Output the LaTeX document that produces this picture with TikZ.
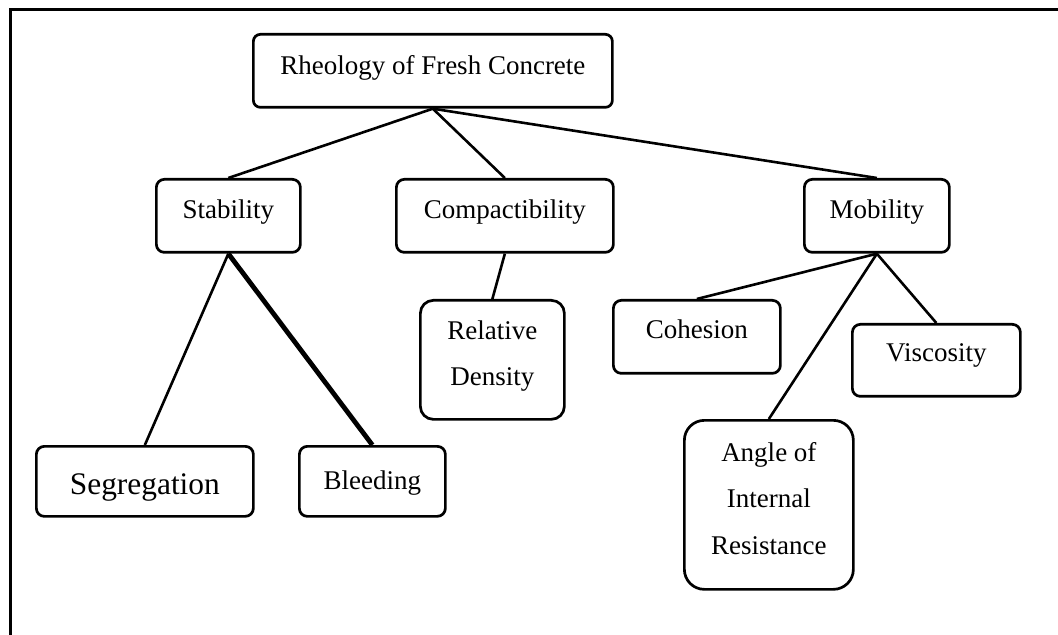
\documentclass[tikz,border=0pt]{standalone}
\usepackage{fontspec}
\setmainfont{Liberation Serif}
\usepackage{tikz}
\usetikzlibrary{positioning}
\tikzset{
  cbox/.style ={rectangle, rounded corners=4pt, draw=black, line width=1.35pt,
                inner sep=0pt, align=center, anchor=north west,
                font=\fontsize{13.5}{23.25}\selectfont},
  link/.style ={line width=1.3pt, draw=black},
  heavy/.style={link, line width=2.4pt},
  frame/.style={line width=1.5pt, draw=black},
}

\begin{document}
\begin{tikzpicture}[x=0.5pt, y=-0.5pt]
  \useasboundingbox (0,0) rectangle (1058,635);
  \draw[frame] (10,635) -- (10,9.5) -- (1058,9.5);

  % top level
  \node[cbox, minimum width=179.5pt, minimum height=36.5pt, rounded corners=3.5pt,
        text height=20pt, text depth=16.5pt] (rheo) at (252,33) {Rheology of Fresh Concrete};

  % properties
  \node[cbox, minimum width=72pt, minimum height=36.5pt,
        text height=19.5pt, text depth=17pt] (stab) at (155,178) {Stability};
  \node[cbox, minimum width=108.5pt, minimum height=36.5pt,
        text height=19.5pt, text depth=17pt] (comp) at (395,178) {Compactibility};
  \node[cbox, minimum width=72.5pt, minimum height=36.5pt,
        text height=19.5pt, text depth=17pt] (mob) at (803,178) {Mobility};

  % sub-properties
  \node[cbox, minimum width=108.5pt, minimum height=35pt,
        font=\fontsize{15.7}{19}\selectfont,
        text height=24pt, text depth=11pt] (segr) at (35,445) {Segregation};
  \node[cbox, minimum width=73pt, minimum height=35pt,
        text height=21.5pt, text depth=13.5pt] (bleed) at (298,445) {Bleeding};
  \node[cbox, minimum width=72pt, minimum height=59.5pt, rounded corners=6.5pt,
        text height=42.75pt, text depth=16.75pt] (reldens) at (419,299) {Relative\\Density};
  \node[cbox, minimum width=83.5pt, minimum height=36.5pt,
        text height=19pt, text depth=17.5pt] (coh) at (612,299) {Cohesion};
  \node[cbox, minimum width=84pt, minimum height=36pt,
        text height=18.5pt, text depth=17.5pt] (visc) at (851,323) {Viscosity};
  \node[cbox, minimum width=84.5pt, minimum height=84.5pt, rounded corners=10pt,
        text height=67pt, text depth=17.5pt] (angle) at (683,419) {Angle of\\Internal\\Resistance};

  % connectors
  \draw[link] (rheo.south) -- (stab.north);
  \draw[link] (rheo.south) -- (comp.north);
  \draw[link] (rheo.south) -- (mob.north);
  \draw[link] (stab.south) -- (segr.north);
  \draw[heavy] (stab.south) -- (bleed.north);
  \draw[link] (comp.south) -- (reldens.north);
  \draw[link] (mob.south) -- (coh.north);
  \draw[link] (mob.south) -- (angle.north);
  \draw[link] (mob.south) -- (visc.north);
\end{tikzpicture}
\end{document}
